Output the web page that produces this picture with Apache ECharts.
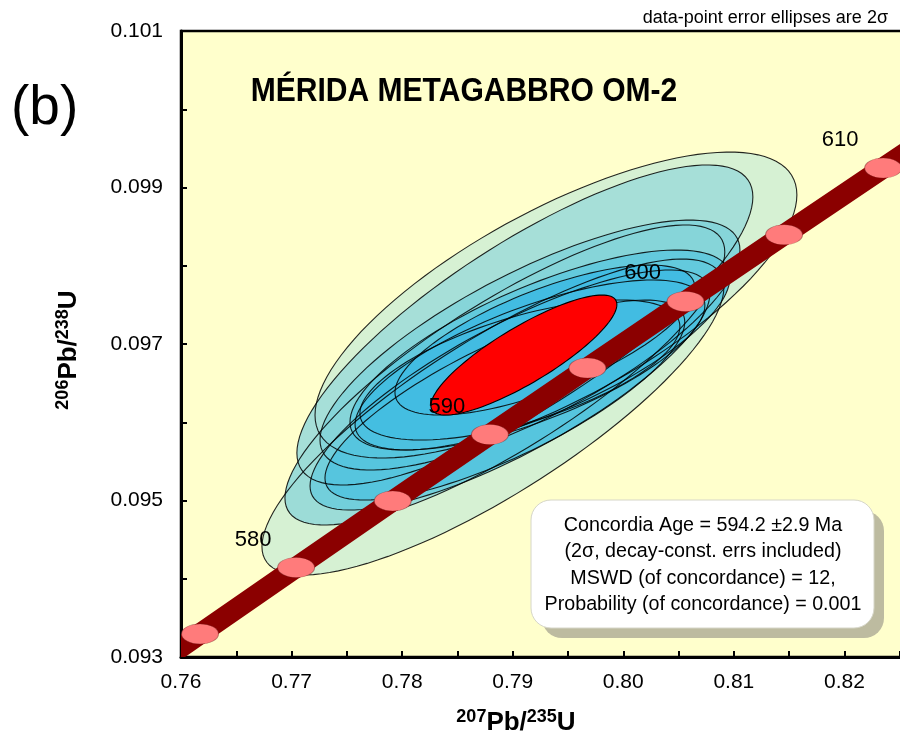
<!DOCTYPE html>
<html>
<head>
<meta charset="utf-8">
<script src="https://cdn.jsdelivr.net/npm/echarts@6/dist/echarts.min.js"></script>
<style>html,body{margin:0;padding:0;background:#fff}#c{width:900px;height:740px}</style>
</head>
<body>
<div id="c"></div>
<script>
// ---- data-point error ellipses (2 sigma, absolute) ----
const pb207U235 = [0.79391, 0.78821, 0.79110, 0.78929, 0.79156, 0.78975, 0.79246, 0.78929, 0.79156, 0.79065, 0.79291];
const pb206U238 = [0.097498, 0.096067, 0.097243, 0.096604, 0.096987, 0.096412, 0.096923, 0.096284, 0.096732, 0.096668, 0.097051];
const err207 = [0.02179, 0.02089, 0.02062, 0.01989, 0.01899, 0.01808, 0.01718, 0.01627, 0.01582, 0.01447, 0.01356];
const err206 = [0.001955, 0.002019, 0.002045, 0.001917, 0.001597, 0.001534, 0.001278, 0.001278, 0.001086, 0.000895, 0.000958];
const rhoErr = [0.72, 0.82, 0.80, 0.82, 0.76, 0.80, 0.72, 0.78, 0.70, 0.62, 0.70];

// ---- concordia age ellipse ----
const concAge207 = [0.79101];
const concAge206 = [0.096859];
const concAgeErr207 = [0.00841];
const concAgeErr206 = [0.000767];
const concAgeRho = [0.84];

// ---- concordia curve (age in Ma) ----
const concAges = [570, 575, 580, 585, 590, 595, 600, 605, 610, 615];
const conc207 = [0.75306, 0.76172, 0.77041, 0.77915, 0.78794, 0.79676, 0.80563, 0.81454, 0.82350, 0.83251];
const conc206 = [0.092448, 0.093295, 0.094144, 0.094994, 0.095843, 0.096693, 0.097544, 0.098396, 0.099249, 0.100101];
const labelledAges = [580, 590, 600, 610];

// ---- axis ----
const xMin = 0.76, xMax = 0.83, xStep = 0.005;
const yMin = 0.093, yMax = 0.101, yStep = 0.001;

const statsLines = [
  'Concordia Age = 594.2 \u00B12.9 Ma',
  '(2\u03C3, decay-const. errs included)',
  'MSWD (of concordance) = 12,',
  'Probability (of concordance) = 0.001'
];

const FONT = '"Liberation Sans", Arial, sans-serif';
const fillPalette = ['#D6F1D3', '#D6F1D3', '#A6DFD8', '#9CDCD7', '#86D5D9', '#72CFDB', '#63CADD', '#56C5DE', '#4CC1E0', '#44BEE1', '#42BCE2'];

const ellData = pb207U235.map((x, i) => [x, pb206U238[i], err207[i], err206[i], rhoErr[i]]);
const redData = concAge207.map((x, i) => [x, concAge206[i], concAgeErr207[i], concAgeErr206[i], concAgeRho[i]]);
const curveData = concAges.map((a, i) => [conc207[i], conc206[i], a]);
const markerData = curveData.filter(d => d[2] >= 575 && d[2] <= 610);

function ellipsePoints(api) {
  const cx = api.value(0), cy = api.value(1), sx = api.value(2), sy = api.value(3), r = api.value(4);
  const k = Math.sqrt(1 - r * r);
  const pts = [];
  const n = 120;
  for (let j = 0; j < n; j++) {
    const t = j / n * Math.PI * 2;
    pts.push(api.coord([cx + sx * Math.cos(t), cy + sy * (r * Math.cos(t) + k * Math.sin(t))]));
  }
  return pts;
}

const titleRich = {
  m: { fontSize: 26, fontWeight: 'bold', fontFamily: FONT, fill: '#000', lineHeight: 28, verticalAlign: 'bottom' },
  s: { fontSize: 18, fontWeight: 'bold', fontFamily: FONT, fill: '#000', lineHeight: 18, verticalAlign: 'top' }
};

const chart = echarts.init(document.getElementById('c'), null, { renderer: 'canvas' });
chart.setOption({
  animation: false,
  backgroundColor: '#ffffff',
  grid: {
    left: 181, top: 31, width: 774, height: 626,
    show: true, backgroundColor: '#FFFFCC', borderColor: '#000', borderWidth: 2.5,
    outerBoundsMode: 'none', containLabel: false
  },
  xAxis: {
    type: 'value', min: xMin, max: xMax, interval: xStep,
    axisLine: { show: true, onZero: false, lineStyle: { color: '#000', width: 3 } },
    axisTick: { show: true, inside: true, length: 6, lineStyle: { color: '#000', width: 2 } },
    splitLine: { show: false },
    axisLabel: {
      interval: 0, margin: 15, color: '#000', fontSize: 21, fontFamily: FONT,
      showMinLabel: true, showMaxLabel: true,
      formatter: v => { const m = Math.round(v * 1000); return m % 10 === 0 ? (m / 1000).toFixed(2) : ''; }
    }
  },
  yAxis: {
    type: 'value', min: yMin, max: yMax, interval: yStep,
    axisLine: { show: true, onZero: false, lineStyle: { color: '#000', width: 3 } },
    axisTick: { show: true, inside: true, length: 6, lineStyle: { color: '#000', width: 2 } },
    splitLine: { show: false },
    axisLabel: {
      interval: 0, margin: 18, color: '#000', fontSize: 21, fontFamily: FONT,
      showMinLabel: true, showMaxLabel: true,
      formatter: v => { const m = Math.round(v * 1000); return m % 2 === 1 ? (m / 1000).toFixed(3) : ''; }
    }
  },
  series: [
    {
      type: 'custom', name: 'fills', z: 2, clip: true,
      data: ellData, encode: { x: 0, y: 1 },
      renderItem: (params, api) => ({
        type: 'polygon', shape: { points: ellipsePoints(api) },
        style: { fill: fillPalette[params.dataIndex % fillPalette.length], stroke: null }
      })
    },
    {
      type: 'custom', name: 'outlines', z: 3, clip: true,
      data: ellData, encode: { x: 0, y: 1 },
      renderItem: (params, api) => ({
        type: 'polygon', shape: { points: ellipsePoints(api) },
        style: { fill: null, stroke: 'rgba(0,0,0,0.85)', lineWidth: 1.1 }
      })
    },
    {
      type: 'custom', name: 'concordia age', z: 4, clip: true,
      data: redData, encode: { x: 0, y: 1 },
      renderItem: (params, api) => ({
        type: 'polygon', shape: { points: ellipsePoints(api) },
        style: { fill: '#FF0000', stroke: '#000', lineWidth: 1.1 }
      })
    },
    {
      type: 'custom', name: 'concordia', z: 5, clip: true,
      data: curveData, encode: { x: 0, y: 1 },
      renderItem: (params, api) => {
        const i = params.dataIndex;
        if (i >= curveData.length - 1) return null;
        const p0 = api.coord([curveData[i][0], curveData[i][1]]);
        const p1 = api.coord([curveData[i + 1][0], curveData[i + 1][1]]);
        return {
          type: 'line', shape: { x1: p0[0], y1: p0[1], x2: p1[0], y2: p1[1] },
          style: { stroke: '#8B0000', lineWidth: 21, lineCap: 'round' }
        };
      }
    },
    {
      type: 'scatter', name: 'age marks', z: 6, clip: true,
      data: markerData, symbol: 'circle', symbolSize: [37, 20],
      itemStyle: { color: '#FF7B7B', borderColor: 'rgba(110,30,30,0.45)', borderWidth: 0.8, opacity: 1 },
      label: {
        show: true, position: 'inside', offset: [-43, -28],
        color: '#000', fontSize: 22, fontFamily: FONT,
        formatter: p => labelledAges.indexOf(p.data[2]) >= 0 ? String(p.data[2]) : ''
      },
      emphasis: { disabled: true }
    }
  ],
  graphic: [
    { type: 'text', x: 11, y: 109, z: 100,
      style: { text: '(b)', font: '55px ' + FONT, fill: '#000', textVerticalAlign: 'middle' } },
    { type: 'text', x: 464, y: 92, scaleX: 0.91, z: 100,
      style: { text: 'M\u00C9RIDA METAGABBRO OM-2', font: 'bold 33px ' + FONT, fill: '#000', textAlign: 'center', textVerticalAlign: 'middle' } },
    { type: 'text', x: 888, y: 18, z: 100,
      style: { text: 'data-point error ellipses are 2\u03C3', font: '18px ' + FONT, fill: '#000', textAlign: 'right', textVerticalAlign: 'middle' } },
    { type: 'text', x: 516, y: 722, z: 100,
      style: { text: '{s|207}{m|Pb/}{s|235}{m|U}', textAlign: 'center', textVerticalAlign: 'middle', rich: titleRich } },
    { type: 'text', x: 68, y: 350, rotation: Math.PI / 2, z: 100,
      style: { text: '{s|206}{m|Pb/}{s|238}{m|U}', textAlign: 'center', textVerticalAlign: 'middle', rich: titleRich } },
    { type: 'rect', z: 100, shape: { x: 542, y: 511, width: 342, height: 127, r: 20 },
      style: { fill: '#BDBBA0' } },
    { type: 'rect', z: 101, shape: { x: 531, y: 500, width: 343, height: 128, r: 20 },
      style: { fill: '#FFFFFF', stroke: '#D6D6C8', lineWidth: 1 } },
    { type: 'text', x: 703, y: 565, z: 102,
      style: { text: statsLines.join('\n'), font: '19.7px ' + FONT, fill: '#000', textAlign: 'center', textVerticalAlign: 'middle', lineHeight: 26.5 } }
  ]
});
</script>
</body>
</html>
